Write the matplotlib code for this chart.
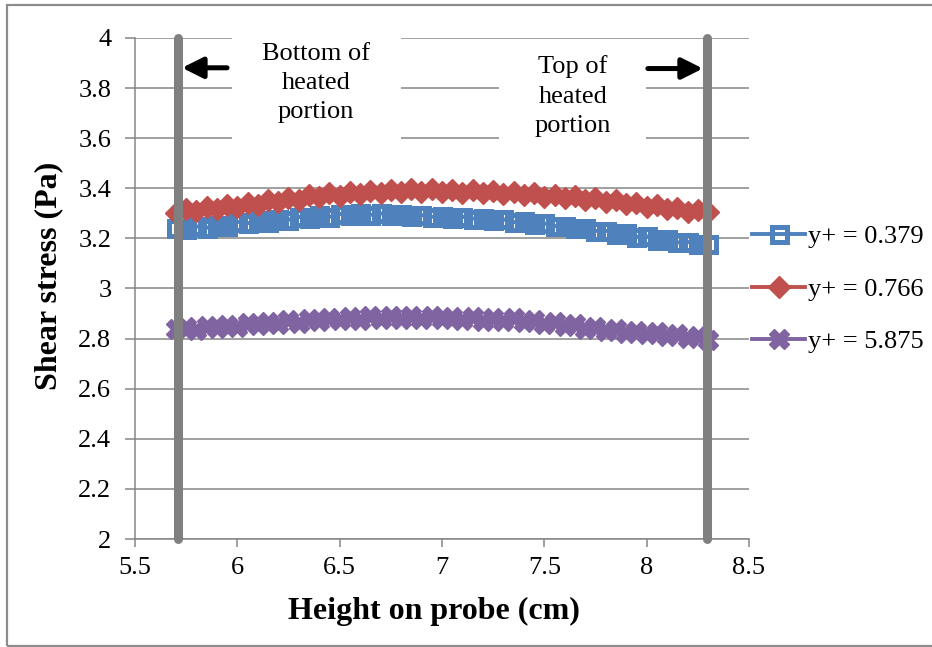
import matplotlib
matplotlib.use('Agg')
import matplotlib.pyplot as plt
from matplotlib.patches import Rectangle
from matplotlib.ticker import FuncFormatter, MultipleLocator

# height on probe (cm)
height = [5.70, 5.75, 5.80, 5.85, 5.90, 5.95, 6.00, 6.05, 6.10, 6.15, 6.20, 6.25, 6.30,
          6.35, 6.40, 6.45, 6.50, 6.55, 6.60, 6.65, 6.70, 6.75, 6.80, 6.85, 6.90, 6.95,
          7.00, 7.05, 7.10, 7.15, 7.20, 7.25, 7.30, 7.35, 7.40, 7.45, 7.50, 7.55, 7.60,
          7.65, 7.70, 7.75, 7.80, 7.85, 7.90, 7.95, 8.00, 8.05, 8.10, 8.15, 8.20, 8.25, 8.30]

# wall shear stress (Pa) at three y+ positions
tau_0379 = [3.240, 3.236, 3.248, 3.242, 3.255, 3.250, 3.266, 3.260, 3.272, 3.266, 3.279,
            3.274, 3.286, 3.280, 3.292, 3.286, 3.298, 3.292, 3.300, 3.294, 3.300, 3.293,
            3.296, 3.288, 3.293, 3.286, 3.291, 3.283, 3.287, 3.279, 3.282, 3.272, 3.276,
            3.265, 3.268, 3.257, 3.260, 3.249, 3.251, 3.240, 3.242, 3.230, 3.231, 3.218,
            3.220, 3.206, 3.208, 3.194, 3.196, 3.184, 3.186, 3.176, 3.178]

tau_0766 = [3.302, 3.318, 3.310, 3.326, 3.316, 3.332, 3.324, 3.342, 3.334, 3.352, 3.344,
            3.362, 3.354, 3.372, 3.364, 3.380, 3.370, 3.386, 3.376, 3.390, 3.380, 3.394,
            3.384, 3.398, 3.386, 3.396, 3.384, 3.394, 3.382, 3.392, 3.380, 3.390, 3.376,
            3.386, 3.372, 3.380, 3.366, 3.374, 3.360, 3.368, 3.354, 3.362, 3.346, 3.352,
            3.336, 3.342, 3.326, 3.332, 3.316, 3.322, 3.306, 3.312, 3.305]

tau_5875 = [2.838, 2.846, 2.836, 2.850, 2.842, 2.856, 2.848, 2.862, 2.854, 2.868, 2.860,
            2.874, 2.864, 2.880, 2.870, 2.884, 2.874, 2.888, 2.876, 2.890, 2.878, 2.890,
            2.880, 2.892, 2.880, 2.890, 2.878, 2.888, 2.876, 2.886, 2.872, 2.884, 2.870,
            2.882, 2.866, 2.876, 2.858, 2.868, 2.850, 2.858, 2.840, 2.848, 2.832, 2.838,
            2.824, 2.832, 2.818, 2.826, 2.810, 2.818, 2.802, 2.810, 2.796]

labels = ['y+ = 0.379', 'y+ = 0.766', 'y+ = 5.875']

# ends of the heated portion (cm)
heated_bottom = 5.71
heated_top = 8.295

plt.rcParams['font.family'] = ['Liberation Serif', 'DejaVu Serif']

grey = '#868686'

fig = plt.figure(figsize=(9.32, 6.47), dpi=100)
ax = fig.add_axes([0.1448, 0.1669, 0.8036 - 0.1448, 0.9413 - 0.1669])

ax.set_xlim(5.5, 8.5)
ax.set_ylim(2, 4)
ax.xaxis.set_major_locator(MultipleLocator(0.5))
ax.yaxis.set_major_locator(MultipleLocator(0.2))
fmt = FuncFormatter(lambda v, p: f'{v:g}')
ax.xaxis.set_major_formatter(fmt)
ax.yaxis.set_major_formatter(fmt)

ax.set_axisbelow(True)
ax.grid(True, axis='y', color=grey, lw=1.1)
for side in ['top', 'right']:
    ax.spines[side].set_visible(False)
for side in ['left', 'bottom']:
    ax.spines[side].set_color(grey)
    ax.spines[side].set_linewidth(1.1)
ax.tick_params(axis='both', colors=grey, width=1.1, labelsize=19, labelcolor='black')
ax.tick_params(axis='y', length=7, pad=10)
ax.tick_params(axis='x', length=6, pad=7)

# white boxes behind the notes
ax.axvspan(5.974, 6.80, ymin=0.776, ymax=1.02, facecolor='white', edgecolor='none',
           zorder=1, clip_on=False)
ax.axvspan(7.278, 7.997, ymin=0.757, ymax=0.986, facecolor='white', edgecolor='none',
           zorder=1)

ax.plot(height, tau_0379, color='#4F81BD', lw=2.8, marker='s', markersize=10.8,
        markerfacecolor='none', markeredgecolor='#4F81BD', markeredgewidth=3.6,
        label=labels[0], zorder=3)
ax.plot(height, tau_0766, color='#C0504D', lw=2.8, marker='D', markersize=11,
        markeredgecolor='#C0504D', label=labels[1], zorder=3)
ax.plot(height, tau_5875, color='#8064A2', lw=2.8, marker='X', markersize=15,
        markeredgecolor='#8064A2', label=labels[2], zorder=3)

for xv in [heated_bottom, heated_top]:
    ax.plot([xv, xv], [2, 4], color='#808080', lw=6.5, solid_capstyle='round',
            clip_on=False, zorder=4)

arrow = dict(arrowstyle='-|>,head_length=0.7,head_width=0.35', color='black', lw=3.6,
             mutation_scale=18, shrinkA=0, shrinkB=0)
ax.annotate('', xy=(5.73, 3.881), xytext=(5.95, 3.881), arrowprops=arrow, zorder=5)
ax.annotate('', xy=(8.275, 3.878), xytext=(8.006, 3.878), arrowprops=arrow, zorder=5)

ax.text(6.385, 3.82, 'Bottom of\nheated\nportion', ha='center', va='center',
        fontsize=19, linespacing=1.42, zorder=5)
ax.text(7.64, 3.768, 'Top of\nheated\nportion', ha='center', va='center',
        fontsize=19, linespacing=1.42, zorder=5)

fig.text(0.466, 0.0556, 'Height on probe (cm)', ha='center', va='center',
         fontsize=23, fontweight='bold')
fig.text(0.052, 0.573, 'Shear stress (Pa)', ha='center', va='center', rotation=90,
         fontsize=23, fontweight='bold')

fig.legend(loc='center left', bbox_to_anchor=(0.807, 0.553), frameon=False,
           fontsize=19, handlelength=2.0, handletextpad=0.1, labelspacing=1.1,
           borderpad=0, borderaxespad=0)

# outer chart frame
fig.add_artist(Rectangle((7 / 932, 1 - 646 / 647), 2, 641 / 647,
                         transform=fig.transFigure, fill=False,
                         edgecolor='#8c8c8c', lw=1.6))

fig.savefig('out.png', dpi=100)
